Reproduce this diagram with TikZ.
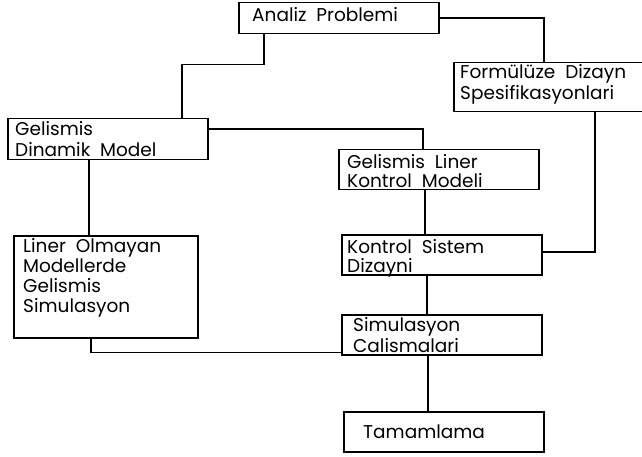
\documentclass[tikz,border=0pt]{standalone}
\usepackage{fontspec}
\setmainfont{Poppins}
\usetikzlibrary{calc}
\begin{document}
\begin{tikzpicture}[x=1pt,y=-1pt,
  stagebox/.style={draw=black,line width=1.5pt,inner sep=0pt},
  stagetext/.style={anchor=base west,inner sep=0pt,align=left,
    font=\fontsize{18.5}{21}\selectfont},
  link/.style={draw=black,line width=1.5pt}]
\useasboundingbox (0,0) rectangle (642,457);
\fill[white] (0,0) rectangle (642,457);
\clip (0,0) rectangle (642,457);

% stage boxes (left, top) corner and size
\node[stagebox,anchor=north west,minimum width=200pt,minimum height=31pt] (ap) at (238,2) {};
\node[stagebox,anchor=north west,minimum width=200pt,minimum height=49pt] (fd) at (453,62) {};
\node[stagebox,anchor=north west,minimum width=200pt,minimum height=41pt] (gd) at (7,118) {};
\node[stagebox,anchor=north west,minimum width=200pt,minimum height=40pt] (gl) at (338,149) {};
\node[stagebox,anchor=north west,minimum width=200pt,minimum height=40pt] (ks) at (341,234) {};
\node[stagebox,anchor=north west,minimum width=184pt,minimum height=102pt] (lo) at (13,235) {};
\node[stagebox,anchor=north west,minimum width=200pt,minimum height=40pt] (sc) at (341,314) {};
\node[stagebox,anchor=north west,minimum width=200pt,minimum height=40pt] (tm) at (343,411) {};

% labels, placed by the baseline of their last line
\node[stagetext] (apt) at (252,22) {Analiz\ \ Problemi};
\node[stagetext] (fdt) at (460,100) {Formülüze\ \ Dizayn\\Spesifikasyonlari};
\node[stagetext] (gdt) at (15,157) {Gelismis\\Dinamik\ \ Model};
\node[stagetext,font=\fontsize{18.5}{19}\selectfont] (glt) at (347,187) {Gelismis\ \ Liner\\Kontrol\ \ Modeli};
\node[stagetext,font=\fontsize{18.5}{19}\selectfont] (kst) at (347,272) {Kontrol\ \ Sistem\\Dizayni};
\node[stagetext,font=\fontsize{18.5}{20}\selectfont] (lot) at (23,312) {Liner\ \ Olmayan\\Modellerde\\Gelismis\\Simulasyon};
\node[stagetext,font=\fontsize{18.5}{21}\selectfont] (sct) at (353,352) {Simulasyon\\Calismalari};
\node[stagetext] (tmt) at (363,438) {Tamamlama};

% connectors
\path[link] ($(ap.east)$) -| ($(fd.north west)+(91,0)$);
\path[link] ($(ap.south west)+(26,0)$) -- ++(0,30) -| ($(gd.north west)+(175,0)$);
\path[link] ($(gd.north east)+(0,11)$) -| ($(gl.north west)+(85,0)$);
\path[link] ($(gd.south west)+(82,0)$) -- ($(lo.north west)+(76,0)$);
\path[link] ($(lo.south west)+(78,0)$) |- ($(sc.south west)+(0,-3)$);
\path[link] ($(gl.south west)+(87,0)$) -- ($(ks.north west)+(84,0)$);
\path[link] ($(fd.south west)+(142,0)$) |- ($(ks.north east)+(0,18)$);
\path[link] ($(ks.south west)+(86,0)$) -- ($(sc.north west)+(86,0)$);
\path[link] ($(sc.south west)+(87,0)$) -- ($(tm.north west)+(85,0)$);
\end{tikzpicture}
\end{document}
